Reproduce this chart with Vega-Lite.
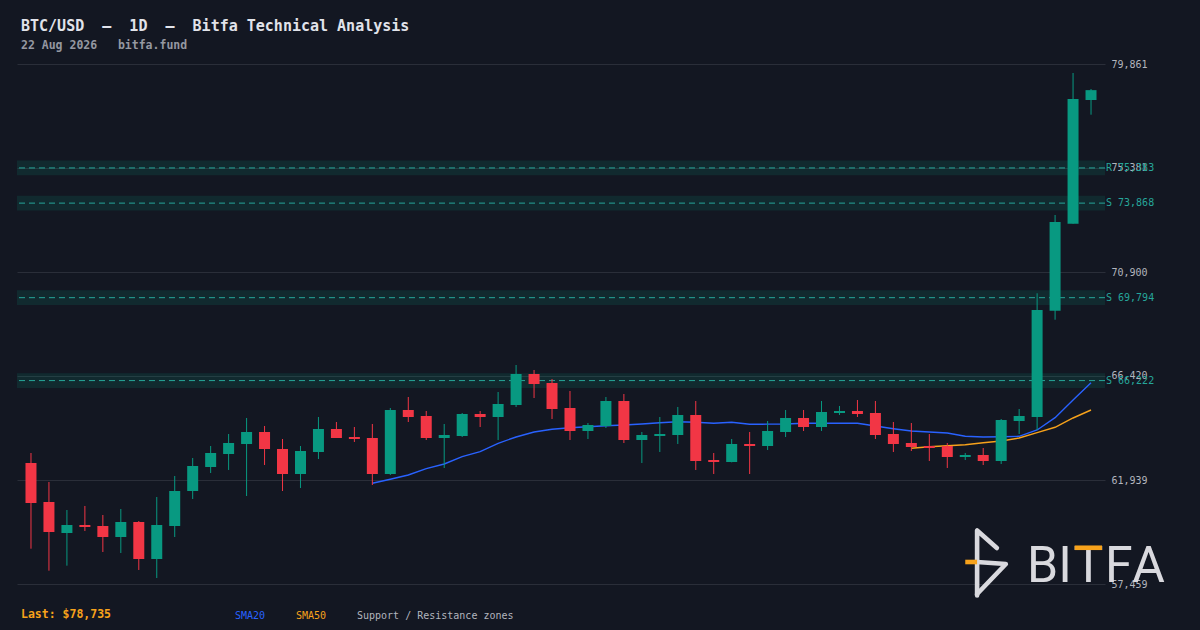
{
  "$schema": "https://vega.github.io/schema/vega-lite/v6.json",
  "width": 1088,
  "height": 520,
  "autosize": {"type": "none"},
  "padding": {"left": 17, "top": 64, "right": 95, "bottom": 46},
  "background": "#131722",
  "config": {"view": {"stroke": null}, "font": "DejaVu Sans Mono"},
  "title": {
    "text": "BTC/USD\u00a0\u00a0–\u00a0\u00a01D\u00a0\u00a0–\u00a0\u00a0Bitfa Technical Analysis",
    "subtitle": "22 Aug 2026\u00a0\u00a0\u00a0bitfa.fund",
    "anchor": "start",
    "frame": "group",
    "dx": 4,
    "offset": 8,
    "font": "DejaVu Sans Mono",
    "fontSize": 15,
    "fontWeight": "bold",
    "color": "#e1e3ea",
    "subtitleFont": "DejaVu Sans Mono",
    "subtitleFontSize": 11.5,
    "subtitleFontWeight": "bold",
    "subtitleColor": "#9598a1",
    "subtitlePadding": 6
  },
  "datasets": {
    "candles": [
      {"i":0,"o":62672,"h":63103,"l":58980,"c":60949},
      {"i":1,"o":60992,"h":61854,"l":58032,"c":59700},
      {"i":2,"o":59656,"h":60647,"l":58248,"c":60001},
      {"i":3,"o":60001,"h":60820,"l":59743,"c":59915},
      {"i":4,"o":59958,"h":60432,"l":58838,"c":59484},
      {"i":5,"o":59484,"h":60690,"l":58795,"c":60130},
      {"i":6,"o":60130,"h":60173,"l":58063,"c":58536},
      {"i":7,"o":58536,"h":61207,"l":57718,"c":60001},
      {"i":8,"o":59958,"h":62112,"l":59484,"c":61466},
      {"i":9,"o":61466,"h":62887,"l":61121,"c":62543},
      {"i":10,"o":62500,"h":63404,"l":62241,"c":63103},
      {"i":11,"o":63060,"h":63921,"l":62371,"c":63534},
      {"i":12,"o":63491,"h":64611,"l":61250,"c":64008},
      {"i":13,"o":64008,"h":64266,"l":62586,"c":63275},
      {"i":14,"o":63275,"h":63706,"l":61466,"c":62198},
      {"i":15,"o":62198,"h":63404,"l":61595,"c":63189},
      {"i":16,"o":63146,"h":64654,"l":62844,"c":64137},
      {"i":17,"o":64137,"h":64438,"l":63749,"c":63749},
      {"i":18,"o":63792,"h":64223,"l":63577,"c":63706},
      {"i":19,"o":63749,"h":64352,"l":61724,"c":62198},
      {"i":20,"o":62198,"h":65041,"l":62155,"c":64955},
      {"i":21,"o":64955,"h":65515,"l":64438,"c":64654},
      {"i":22,"o":64697,"h":64912,"l":63663,"c":63749},
      {"i":23,"o":63749,"h":64352,"l":62457,"c":63878},
      {"i":24,"o":63835,"h":64826,"l":63792,"c":64783},
      {"i":25,"o":64783,"h":64912,"l":64223,"c":64654},
      {"i":26,"o":64654,"h":65731,"l":63663,"c":65214},
      {"i":27,"o":65171,"h":66894,"l":65085,"c":66506},
      {"i":28,"o":66506,"h":66679,"l":65472,"c":66075},
      {"i":29,"o":66118,"h":66291,"l":64568,"c":64998},
      {"i":30,"o":65041,"h":65774,"l":63663,"c":64051},
      {"i":31,"o":64051,"h":64395,"l":63706,"c":64309},
      {"i":32,"o":64266,"h":65515,"l":64180,"c":65343},
      {"i":33,"o":65343,"h":65645,"l":63534,"c":63663},
      {"i":34,"o":63663,"h":64008,"l":62672,"c":63878},
      {"i":35,"o":63835,"h":64654,"l":63146,"c":63921},
      {"i":36,"o":63878,"h":65085,"l":63491,"c":64740},
      {"i":37,"o":64740,"h":65343,"l":62371,"c":62758},
      {"i":38,"o":62801,"h":63103,"l":62198,"c":62715},
      {"i":39,"o":62715,"h":63706,"l":62700,"c":63491},
      {"i":40,"o":63491,"h":64008,"l":62198,"c":63404},
      {"i":41,"o":63404,"h":64481,"l":63232,"c":64051},
      {"i":42,"o":64008,"h":64955,"l":63792,"c":64611},
      {"i":43,"o":64611,"h":64955,"l":64051,"c":64223},
      {"i":44,"o":64223,"h":65343,"l":64051,"c":64869},
      {"i":45,"o":64826,"h":65128,"l":64740,"c":64912},
      {"i":46,"o":64912,"h":65386,"l":64654,"c":64783},
      {"i":47,"o":64826,"h":65343,"l":63706,"c":63878},
      {"i":48,"o":63921,"h":64438,"l":63146,"c":63491},
      {"i":49,"o":63534,"h":64395,"l":63189,"c":63361},
      {"i":50,"o":63404,"h":63921,"l":62758,"c":63318},
      {"i":51,"o":63404,"h":63534,"l":62457,"c":62931},
      {"i":52,"o":62931,"h":63103,"l":62801,"c":63017},
      {"i":53,"o":63017,"h":63318,"l":62586,"c":62758},
      {"i":54,"o":62758,"h":64568,"l":62629,"c":64524},
      {"i":55,"o":64481,"h":64998,"l":63921,"c":64697},
      {"i":56,"o":64654,"h":69983,"l":64094,"c":69263},
      {"i":57,"o":69233,"h":73356,"l":68845,"c":73054},
      {"i":58,"o":72981,"h":79473,"l":72981,"c":78353},
      {"i":59,"o":78310,"h":78784,"l":77677,"c":78735}
    ],
    "sma": [
      {"i":19,"s":"SMA20","v":61798},{"i":20,"s":"SMA20","v":61970},{"i":21,"s":"SMA20","v":62155},
      {"i":22,"s":"SMA20","v":62427},{"i":23,"s":"SMA20","v":62629},{"i":24,"s":"SMA20","v":62944},
      {"i":25,"s":"SMA20","v":63159},{"i":26,"s":"SMA20","v":63521},{"i":27,"s":"SMA20","v":63792},
      {"i":28,"s":"SMA20","v":64008},{"i":29,"s":"SMA20","v":64124},{"i":30,"s":"SMA20","v":64193},
      {"i":31,"s":"SMA20","v":64236},{"i":32,"s":"SMA20","v":64279},{"i":33,"s":"SMA20","v":64309},
      {"i":34,"s":"SMA20","v":64352},{"i":35,"s":"SMA20","v":64408},{"i":36,"s":"SMA20","v":64451},
      {"i":37,"s":"SMA20","v":64425},{"i":38,"s":"SMA20","v":64382},{"i":39,"s":"SMA20","v":64425},
      {"i":40,"s":"SMA20","v":64339},{"i":41,"s":"SMA20","v":64345},{"i":42,"s":"SMA20","v":64352},
      {"i":43,"s":"SMA20","v":64382},{"i":44,"s":"SMA20","v":64382},{"i":45,"s":"SMA20","v":64382},
      {"i":46,"s":"SMA20","v":64382},{"i":47,"s":"SMA20","v":64266},{"i":48,"s":"SMA20","v":64150},
      {"i":49,"s":"SMA20","v":64051},{"i":50,"s":"SMA20","v":64008},{"i":51,"s":"SMA20","v":63964},
      {"i":52,"s":"SMA20","v":63822},{"i":53,"s":"SMA20","v":63792},{"i":54,"s":"SMA20","v":63805},
      {"i":55,"s":"SMA20","v":63822},{"i":56,"s":"SMA20","v":64094},{"i":57,"s":"SMA20","v":64624},
      {"i":58,"s":"SMA20","v":65386},{"i":59,"s":"SMA20","v":66131},
      {"i":49,"s":"SMA50","v":63305},{"i":50,"s":"SMA50","v":63374},{"i":51,"s":"SMA50","v":63417},
      {"i":52,"s":"SMA50","v":63460},{"i":53,"s":"SMA50","v":63547},{"i":54,"s":"SMA50","v":63620},
      {"i":55,"s":"SMA50","v":63749},{"i":56,"s":"SMA50","v":63977},{"i":57,"s":"SMA50","v":64210},
      {"i":58,"s":"SMA50","v":64611},{"i":59,"s":"SMA50","v":64955}
    ],
    "zones": [
      {"lab":"R 75,383","p":75383,"lo":75063,"hi":75703},
      {"lab":"S 73,868","p":73868,"lo":73548,"hi":74188},
      {"lab":"S 69,794","p":69794,"lo":69474,"hi":70114},
      {"lab":"S 66,222","p":66222,"lo":65902,"hi":66542}
    ],
    "logo": [
      {"seg":"a","k":0,"x":53.76,"y":59010},
      {"seg":"a","k":1,"x":52.66,"y":59764},
      {"seg":"a","k":2,"x":52.66,"y":56964},
      {"seg":"b","k":0,"x":52.66,"y":58407},
      {"seg":"b","k":1,"x":54.26,"y":58321},
      {"seg":"b","k":2,"x":52.66,"y":57029}
    ],
    "logoAccent": [
      {"seg":"c","k":0,"x":52.0,"y":58407},
      {"seg":"c","k":1,"x":52.66,"y":58407}
    ],
    "brand": [
      {"ch":"B","x":56.3},
      {"ch":"I","x":57.55},
      {"ch":"T","x":58.85},
      {"ch":"F","x":60.55},
      {"ch":"A","x":62.2}
    ]
  },
  "layer": [
    {
      "data": {"name": "zones"},
      "mark": {"type": "rect", "fill": "#089981", "opacity": 0.15},
      "encoding": {
        "y": {"field": "lo", "type": "quantitative", "title": null,
              "scale": {"domain": [57459, 79861], "nice": false, "zero": false},
              "axis": {"orient": "right", "values": [57459, 61939, 66420, 70900, 75381, 79861],
                       "format": ",.0f", "grid": true, "gridColor": "#2a2e39", "gridWidth": 1,
                       "ticks": false, "domain": false, "labelPadding": 6,
                       "labelFont": "DejaVu Sans Mono", "labelFontSize": 10, "labelColor": "#b2b5be", "title": null}},
        "y2": {"field": "hi"}
      }
    },
    {
      "data": {"name": "zones"},
      "mark": {"type": "rule", "color": "#26a69a", "strokeDash": [6, 4], "strokeWidth": 1},
      "encoding": {
        "y": {"field": "p", "type": "quantitative", "title": null,
              "scale": {"domain": [57459, 79861], "nice": false, "zero": false}}
      }
    },
    {
      "data": {"name": "sma"},
      "mark": {"type": "line", "strokeWidth": 1.4},
      "encoding": {
        "x": {"field": "i", "type": "quantitative", "axis": null,
              "scale": {"domain": [-0.5, 59.5], "nice": false, "zero": false}},
        "y": {"field": "v", "type": "quantitative", "title": null,
              "scale": {"domain": [57459, 79861], "nice": false, "zero": false}},
        "color": {"field": "s", "type": "nominal",
                  "scale": {"domain": ["SMA20", "SMA50", "Support / Resistance zones"],
                            "range": ["#2962ff", "#f7a21b", "#b2b5be"]},
                  "legend": {"orient": "none", "legendX": 4, "legendY": 545, "direction": "horizontal",
                             "title": "Last: $78,735", "titleOrient": "left", "titleColor": "#f7a21b",
                             "titleFont": "DejaVu Sans Mono", "titleFontSize": 11.5, "titleFontWeight": "bold",
                             "titlePadding": 113, "labelFont": "DejaVu Sans Mono", "labelFontSize": 10,
                             "symbolSize": 0, "symbolOpacity": 0, "symbolStrokeWidth": 0,
                             "labelOffset": 0, "columnPadding": 20,
                             "encode": {"labels": {"update": {"fill": {"scale": "color", "field": "value"}, "dy": {"value": 2}}}}}}
      }
    },
    {
      "data": {"name": "candles"},
      "mark": {"type": "rule", "strokeWidth": 1},
      "encoding": {
        "x": {"field": "i", "type": "quantitative", "axis": null,
              "scale": {"domain": [-0.5, 59.5], "nice": false, "zero": false}},
        "y": {"field": "l", "type": "quantitative", "title": null,
              "scale": {"domain": [57459, 79861], "nice": false, "zero": false}},
        "y2": {"field": "h"},
        "color": {"condition": {"test": "datum.c >= datum.o", "value": "#089981"}, "value": "#f23645"}
      }
    },
    {
      "data": {"name": "candles"},
      "mark": {"type": "bar", "size": 11},
      "encoding": {
        "x": {"field": "i", "type": "quantitative", "axis": null,
              "scale": {"domain": [-0.5, 59.5], "nice": false, "zero": false}},
        "y": {"field": "o", "type": "quantitative", "title": null,
              "scale": {"domain": [57459, 79861], "nice": false, "zero": false}},
        "y2": {"field": "c"},
        "color": {"condition": {"test": "datum.c >= datum.o", "value": "#089981"}, "value": "#f23645"}
      }
    },
    {
      "data": {"name": "zones"},
      "mark": {"type": "text", "align": "left", "baseline": "middle", "dx": 6,
               "font": "DejaVu Sans Mono", "fontSize": 10, "color": "#26a69a"},
      "encoding": {
        "x": {"datum": 59.5, "type": "quantitative",
              "scale": {"domain": [-0.5, 59.5], "nice": false, "zero": false}},
        "y": {"field": "p", "type": "quantitative", "title": null,
              "scale": {"domain": [57459, 79861], "nice": false, "zero": false}},
        "text": {"field": "lab"}
      }
    },
    {
      "data": {"name": "logo"},
      "mark": {"type": "line", "color": "#d9d9de", "strokeWidth": 4.6, "strokeCap": "round", "strokeJoin": "round"},
      "encoding": {
        "x": {"field": "x", "type": "quantitative",
              "scale": {"domain": [-0.5, 59.5], "nice": false, "zero": false}},
        "y": {"field": "y", "type": "quantitative", "title": null,
              "scale": {"domain": [57459, 79861], "nice": false, "zero": false}},
        "detail": {"field": "seg"},
        "order": {"field": "k"}
      }
    },
    {
      "data": {"name": "logoAccent"},
      "mark": {"type": "line", "color": "#f7a21b", "strokeWidth": 4.6},
      "encoding": {
        "x": {"field": "x", "type": "quantitative",
              "scale": {"domain": [-0.5, 59.5], "nice": false, "zero": false}},
        "y": {"field": "y", "type": "quantitative", "title": null,
              "scale": {"domain": [57459, 79861], "nice": false, "zero": false}},
        "order": {"field": "k"}
      }
    },
    {
      "data": {"name": "brand"},
      "mark": {"type": "text", "align": "center", "baseline": "alphabetic",
               "font": "Roboto", "fontSize": 50, "color": "#d9d9de"},
      "encoding": {
        "x": {"field": "x", "type": "quantitative",
              "scale": {"domain": [-0.5, 59.5], "nice": false, "zero": false}},
        "y": {"datum": 57560, "type": "quantitative", "title": null,
              "scale": {"domain": [57459, 79861], "nice": false, "zero": false}},
        "text": {"field": "ch"}
      }
    },
    {
      "data": {"values": [{}]},
      "mark": {"type": "rule", "color": "#f7a21b", "strokeWidth": 4.6},
      "encoding": {
        "x": {"datum": 58.09, "type": "quantitative",
              "scale": {"domain": [-0.5, 59.5], "nice": false, "zero": false}},
        "x2": {"datum": 59.61},
        "y": {"datum": 59020, "type": "quantitative", "title": null,
              "scale": {"domain": [57459, 79861], "nice": false, "zero": false}}
      }
    }
  ]
}
